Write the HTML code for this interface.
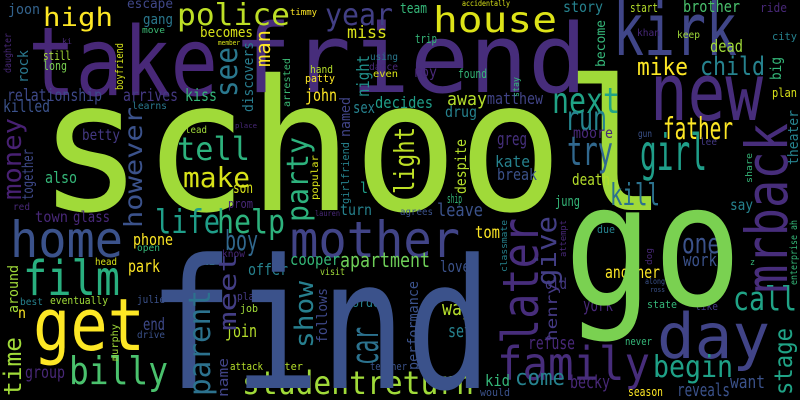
<!DOCTYPE html>
<html><head><meta charset="utf-8">
<style>
html,body{margin:0;padding:0;background:#000;width:800px;height:400px;overflow:hidden}
svg{display:block}
text{font-family:"DejaVu Sans Mono","Liberation Mono",monospace}
</style></head>
<body>
<svg id="cloud" width="800" height="400" viewBox="0 0 800 400" xmlns="http://www.w3.org/2000/svg">
<rect width="800" height="400" fill="#000"/>
</svg>
<script>
// word, font size (weight), colour
const words = ["school","take","friend","kirk","new","house","high","police","year","joon","escape","gang","move","becomes","timmy","miss","member","ki","still","long","hand","patty","using","dance","even","relationship","arrives","kiss","john","killed","learns","sex","decides","betty","tell","lead","place","also","make","son","l","team","accidentally","story","start","brother","ride","trip","roy","found","khan","keep","city","dead","mike","child","plan","away","matthew","drug","next","run","father","moore","gun","lee","greg","try","girl","kate","break","death","kill","jung","ship","say","red","prom","town","glass","turn","lauren","agrees","leave","home","life","help","phone","boy","mother","open","know","tom","due","one","work","film","head","park","li","cooper","offer","apartment","visit","love","another","along","old","best","eventually","julie","play","order","n","call","york","state","like","way","set","get","job","join","end","drive","day","refuse","never","family","begin","come","kid","becky","want","reveals","season","would","billy","attack","water","teacher","group","studentreturn","find","go","z","ross",
"daughter","rock","boyfriend","man","see","discovers","arrested","night","named","money","however","together","party","light","popular","girlfriend","become","big","stay","despite","theater","mrback","share","enterprise ah","later","give","henry","attempt","classmate","dog","performance","stage","around","meet","show","follows","parent","name","car","murphy","time"];
const sizes = [182,95,95,72,79,36,26,30,30,14,13,14,9,14,9,17,7,8,12,12,11,11,10,10,10,17,17,17,17,17,10,16,16,15,32,10,7,16,28,15,15,14,8,15,12,16,12,12,15,12,10,10,11,17,24,26,12,18,16,15,36,34,30,15,10,10,18,40,50,16,16,16,30,14,12,15,10,12,15,15,15,8,10,18,50,33,33,16,28,50,10,10,17,11,28,18,48,10,17,15,16,16,20,10,16,17,8,15,10,11,11,11,12,15,33,18,11,11,20,18,72,11,18,17,10,62,18,11,46,30,22,16,18,18,18,12,11,38,11,11,11,17,32,180,170,9,7,
10,14,11,20,30,14,10,17,14,26,25,15,30,28,10,11,13,15,9,15,14,58,9,10,50,28,15,9,9,9,14,25,14,24,26,14,30,14,38,10,24];
const colors = ["#a0da39","#482878","#472d7b","#404688","#472d7b","#dde318","#fde725","#bddf26","#423f85","#33638d","#3f4788","#2a788e","#3bbb75","#d8e219","#fde725","#d8e219","#d8e219","#482878","#a5db36","#7ad151","#b5de2b","#fde725","#2a788e","#482878","#d8e219","#3e4989","#443983","#35b779","#fde725","#3b528b","#2a788e","#26828e","#1f9e89","#443983","#2db27d","#a0da39","#482878","#35b779","#d8e219","#d8e219","#1f9e89","#35b779","#d8e219","#26828e","#b5de2b","#4ac16d","#482878","#35b779","#482878","#35b779","#482878","#a0da39","#26828e","#a0da39","#fde725","#26828e","#d8e219","#b5de2b","#414487","#26828e","#20a386","#25848e","#fde725","#482878","#3b528b","#443983","#46307e","#31688e","#1f9e89","#26828e","#3b528b","#b5de2b","#2c728e","#35b779","#35b779","#26828e","#482878","#482878","#482878","#482878","#26828e","#482878","#3b528b","#3b528b","#3b528b","#1f9e89","#2db27d","#fde725","#31688e","#414487","#35b779","#482878","#fde725","#26828e","#3b528b","#3b528b","#29af7f","#d8e219","#fde725","#29af7f","#35b779","#26828e","#6ece58","#a0da39","#3b528b","#fde725","#3b528b","#443983","#26828e","#a0da39","#3b528b","#443983","#26828e","#fde725","#20a386","#482878","#35b779","#443983","#b5de2b","#26828e","#fde725","#a0da39","#b5de2b","#3e4989","#3b528b","#414487","#482878","#35b779","#472d7b","#1fa187","#26828e","#35b779","#482878","#3b528b","#3b528b","#fde725","#3b528b","#4ac16d","#b5de2b","#b5de2b","#3b528b","#482878","#a0da39","#3b528b","#7ad151","#35b779","#3b528b",
"#482878","#2a788e","#d5e21a","#fde725","#2a788e","#287c8e","#3bbb75","#21918c","#414487","#482173","#3b528b","#3e4989","#2db27d","#bddf26","#d8e219","#26828e","#35b779","#35b779","#35b779","#b5de2b","#26828e","#472d7b","#35b779","#35b779","#472d7b","#433e85","#443983","#482878","#26828e","#482878","#3b528b","#20a386","#a0da39","#433e85","#277f8e","#3e4989","#2c728e","#414487","#2c728e","#a0da39","#a0da39"];
// layout: anchor x (left or baseline-x for vertical), anchor y (baseline or bottom for vertical), drawn length, orientation
const posX = [38,28,233,613,650,433,43,177,325,8,127,143,142,200,290,347,218,62,43,43,310,305,370,369,373,7,123,185,305,3,132,353,375,82,177,185,235,45,183,233,360,400,462,563,630,683,760,415,413,458,637,677,772,710,637,700,772,447,487,445,552,565,663,573,638,700,497,567,640,495,497,572,610,555,447,730,13,228,35,73,340,315,400,437,10,155,217,133,225,290,137,222,475,597,682,683,23,95,128,203,290,248,340,320,440,605,645,545,20,50,137,237,352,18,733,583,647,695,442,448,33,240,225,143,137,657,528,625,497,653,515,485,570,730,677,628,480,69,230,272,370,25,242,148,564,750,650,
11,28,123,270,237,253,290,369,350,21,142,33,308,414,318,349,605,781,519,466,798,787,752,797,538,556,557,566,507,652,418,792,18,236,313,327,210,228,378,118,21];
const posY = [210,95,92,55,120,32,26,25,25,14,8,24,33,37,15,38,45,44,60,70,73,82,60,70,77,101,101,101,101,112,109,113,108,140,160,133,128,183,187,193,193,13,6,12,12,12,12,43,77,78,36,38,40,52,75,75,97,105,104,117,113,130,139,138,137,145,145,165,170,167,180,185,205,206,203,210,210,208,222,222,215,216,215,216,257,233,233,245,250,257,251,257,238,233,253,266,295,265,272,265,265,275,267,275,272,278,284,289,305,304,303,300,307,318,310,311,308,310,315,337,350,312,337,330,338,358,349,345,380,377,385,386,388,388,396,396,396,384,370,370,370,378,394,388,305,265,292,
73,83,90,67,97,112,107,97,137,200,228,200,222,194,200,204,67,80,97,194,165,293,183,285,344,286,341,257,272,265,370,395,313,331,348,343,396,397,365,361,396];
const lens = [630,190,354,124,113,124,70,113,68,32,46,30,23,53,27,40,22,10,28,24,23,30,28,29,25,95,55,32,32,47,35,22,58,38,73,22,22,32,67,20,8,27,48,40,28,57,27,22,24,29,23,23,25,33,51,65,25,40,56,32,68,42,70,40,14,17,30,46,67,35,40,38,50,25,15,23,17,25,33,37,32,25,33,46,113,65,68,40,33,170,23,23,25,18,38,34,97,22,32,12,50,40,90,25,30,55,20,22,23,58,28,23,35,8,64,30,30,23,30,24,112,18,32,22,28,113,47,27,153,80,50,25,40,35,53,35,30,99,33,31,37,40,232,344,178,5,15,
40,33,47,37,50,70,49,42,40,82,121,51,85,67,45,62,47,23,20,55,55,170,30,65,126,70,58,37,52,17,89,67,48,78,67,55,106,39,38,37,59];
const vertical = words.map((w,i)=> i >= 147);

const svg = document.getElementById('cloud');
const NS = 'http://www.w3.org/2000/svg';
for (let i = 0; i < words.length; i++) {
  const t = document.createElementNS(NS, 'text');
  
  
  t.setAttribute('font-size', sizes[i]);
  t.setAttribute('fill', colors[i]);
  t.setAttribute('textLength', lens[i]);
  t.setAttribute('lengthAdjust', 'spacingAndGlyphs');
  if (vertical[i]) {
    t.setAttribute('transform', 'translate(' + posX[i] + ',' + posY[i] + ') rotate(-90)');
    t.setAttribute('x', 0);
    t.setAttribute('y', 0);
  } else {
    t.setAttribute('x', posX[i]);
    t.setAttribute('y', posY[i]);
  }
  t.textContent = words[i];
  svg.appendChild(t);
}
</script>
</body></html>
